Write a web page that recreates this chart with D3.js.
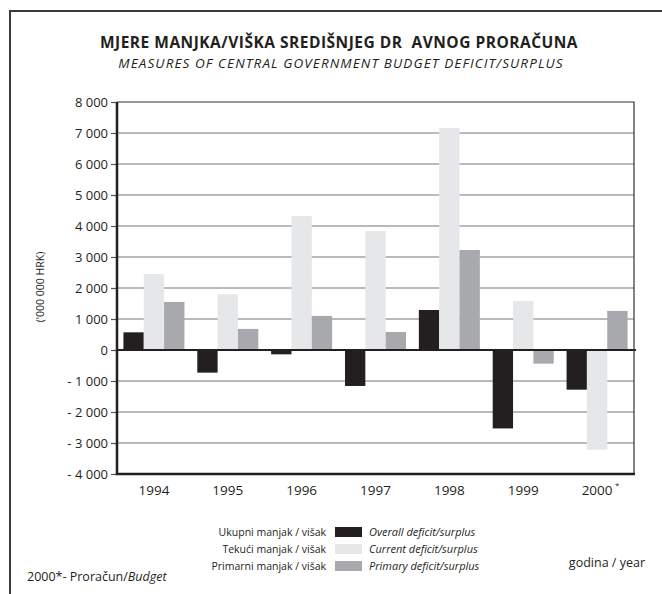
<!DOCTYPE html>
<html><head><meta charset="utf-8">
<script src="https://cdn.jsdelivr.net/npm/d3@7"></script>
<style>
body{margin:0;background:#fff;}
svg{display:block;font-family:"Open Sans",sans-serif;}
</style></head>
<body><svg id="c" width="662" height="594"></svg>
<script>
const years = ["1994","1995","1996","1997","1998","1999","2000"];
const yearLabels = ["1994","1995","1996","1997","1998","1999","2000"];
const overall = [570, -730, -140, -1160, 1290, -2530, -1280];
const current = [2450, 1800, 4320, 3840, 7160, 1580, -3215];
const primary = [1550, 680, 1100, 580, 3225, -440, 1260];
const yTicks = [-4000,-3000,-2000,-1000,0,1000,2000,3000,4000,5000,6000,7000,8000];
const seriesNames = ["overall","current","primary"];
const seriesColors = ["#231f20","#e6e7e8","#a7a9ac"];
const legendHr = ["Ukupni manjak / višak","Tekući manjak / višak","Primarni manjak / višak"];
const legendEn = ["Overall deficit/surplus","Current deficit/surplus","Primary deficit/surplus"];

const svg = d3.select("#c");
const L=117, R=634, T=102, B=474;

// outer frame
svg.append("path").attr("d","M10,594 V11 H662").attr("fill","none").attr("stroke","#3a3a3a").attr("stroke-width",2);

// titles
svg.append("text").attr("x",339).attr("y",48).attr("text-anchor","middle")
  .attr("font-size",15.5).attr("font-weight","bold").attr("fill","#231f20").attr("letter-spacing",0.5)
  .style("white-space","pre").text("MJERE MANJKA/VIŠKA SREDIŠNJEG DR  AVNOG PRORAČUNA");
svg.append("text").attr("x",341).attr("y",68).attr("text-anchor","middle")
  .attr("font-size",13.5).attr("font-style","italic").attr("fill","#231f20").attr("letter-spacing",1.1)
  .text("MEASURES OF CENTRAL GOVERNMENT BUDGET DEFICIT/SURPLUS");

const y = d3.scaleLinear().domain([-4000,8000]).range([B,T]);
const x0 = d3.scaleBand().domain(years).range([L,R]).paddingInner(0.174).paddingOuter(0.087);
const x1 = d3.scaleBand().domain(seriesNames).range([0,x0.bandwidth()]);

// gridlines
svg.append("g").selectAll("line").data(yTicks.filter(d=>d!==0 && d!==8000 && d!==-4000)).join("line")
  .attr("x1",L).attr("x2",R).attr("y1",d=>y(d)).attr("y2",d=>y(d))
  .attr("stroke","#767676").attr("stroke-width",1.2);

// bars
const data = years.map((yr,i)=>({yr, vals:[overall[i],current[i],primary[i]]}));
const grp = svg.append("g").selectAll("g").data(data).join("g")
  .attr("transform",d=>`translate(${x0(d.yr)},0)`);
grp.selectAll("rect").data(d=>d.vals.map((v,j)=>({v,k:seriesNames[j],c:seriesColors[j]}))).join("rect")
  .attr("x",d=>x1(d.k)).attr("width",x1.bandwidth())
  .attr("y",d=>y(Math.max(0,d.v))).attr("height",d=>Math.abs(y(d.v)-y(0)))
  .attr("fill",d=>d.c);

// zero line
svg.append("line").attr("x1",L).attr("x2",R+2).attr("y1",y(0)).attr("y2",y(0))
  .attr("stroke","#231f20").attr("stroke-width",2);

// top & right border
svg.append("path").attr("d",`M${L},${T} H${R} V${B}`).attr("fill","none").attr("stroke","#333").attr("stroke-width",1.2);

// y axis
const yAxis = d3.axisLeft(y).tickValues(yTicks).tickSize(6).tickPadding(3)
  .tickFormat(d=>{const s=d3.format(",")(Math.abs(d)).replace(/,/g," "); return d<0?"- "+s:s;});
const ya = svg.append("g").attr("transform",`translate(${L},0)`).call(yAxis);
ya.select(".domain").remove();
ya.selectAll(".tick line").attr("stroke","#555").attr("stroke-width",1.2);
ya.selectAll(".tick text").attr("font-size",13).attr("fill","#231f20").attr("font-family","'Open Sans',sans-serif");
// thick left and bottom axis lines
svg.append("path").attr("d",`M${L},${T} V${B} H${R+1}`).attr("fill","none").attr("stroke","#231f20").attr("stroke-width",2.5);

// x labels
svg.append("g").selectAll("text").data(years).join("text")
  .attr("x",d=>x0(d)+x0.bandwidth()/2).attr("y",495).attr("text-anchor","middle")
  .attr("font-size",13.5).attr("fill","#231f20").text((d,i)=>yearLabels[i]);
svg.append("text").attr("x",x0("2000")+x0.bandwidth()/2+18).attr("y",488).attr("font-size",8).attr("fill","#231f20").text("*");

// y title
svg.append("text").attr("transform","translate(44,287) rotate(-90)").attr("text-anchor","middle")
  .attr("font-size",10.5).attr("fill","#231f20").text("('000 000 HRK)");

// legend
const lg = svg.append("g").selectAll("g").data(seriesNames).join("g")
  .attr("transform",(d,i)=>`translate(0,${532+i*17})`);
lg.append("rect").attr("x",335).attr("y",-5).attr("width",27).attr("height",10).attr("fill",(d,i)=>seriesColors[i]);
lg.append("text").attr("x",326).attr("y",4).attr("text-anchor","end").attr("font-size",10.5).attr("fill","#231f20").text((d,i)=>legendHr[i]);
lg.append("text").attr("x",369).attr("y",4).attr("font-size",11).attr("font-style","italic").attr("fill","#231f20").text((d,i)=>legendEn[i]);

svg.append("text").attr("x",645).attr("y",567).attr("text-anchor","end").attr("font-size",12.5).attr("fill","#231f20").text("godina / year");
const ft = svg.append("text").attr("x",27).attr("y",581).attr("font-size",12.5).attr("fill","#231f20");
ft.append("tspan").text("2000*- Proračun/");
ft.append("tspan").attr("font-style","italic").text("Budget");
</script></body></html>
